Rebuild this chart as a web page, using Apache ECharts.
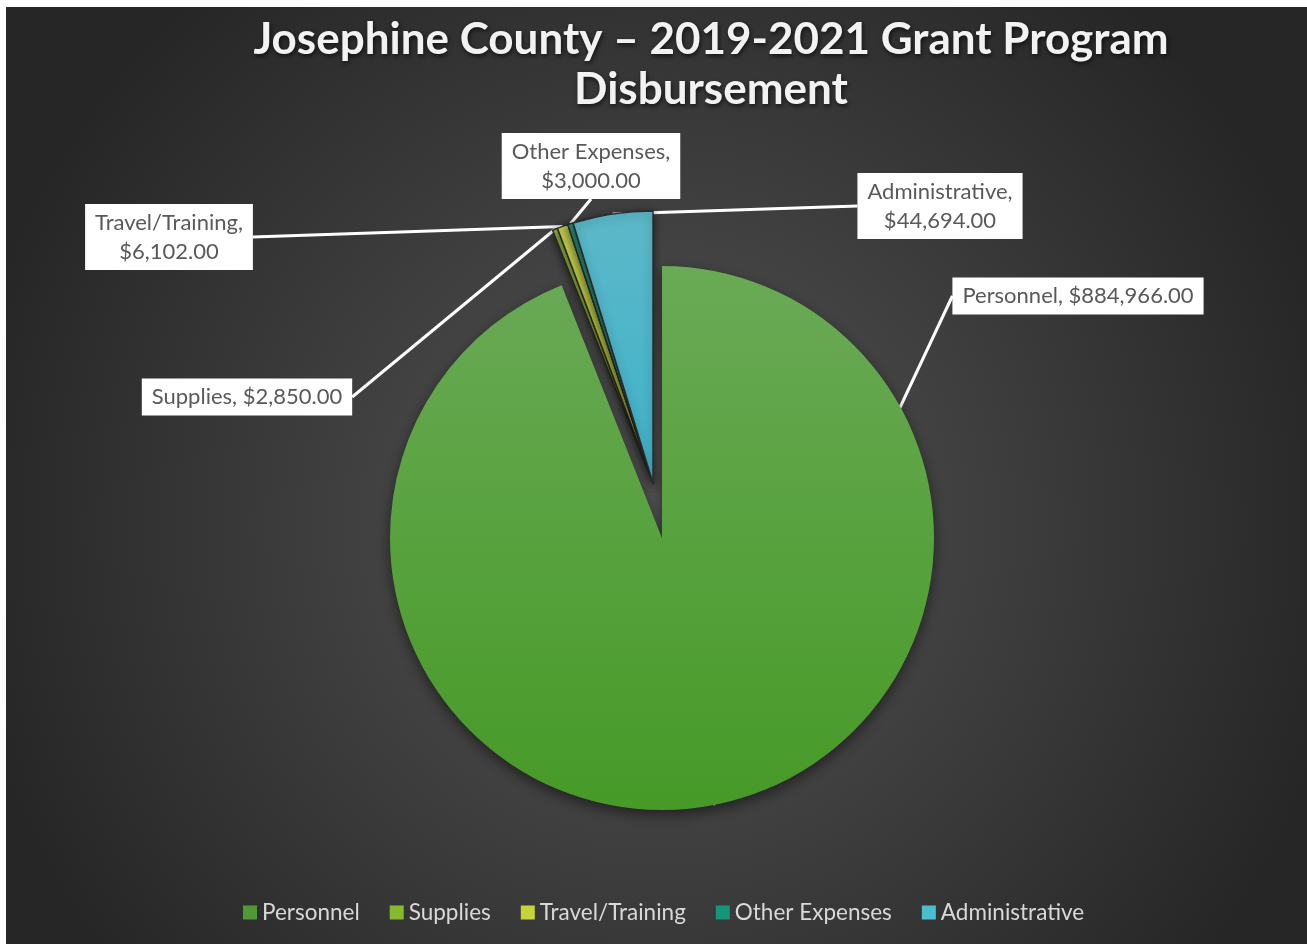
<!DOCTYPE html>
<html>
<head>
<meta charset="utf-8">
<script src="https://cdn.jsdelivr.net/npm/echarts@6/dist/echarts.min.js"></script>
<style>
html,body{margin:0;padding:0;background:#ffffff;width:1307px;height:944px;overflow:hidden;}
#chart{position:absolute;left:6px;top:7px;width:1301px;height:937px;}
</style>
</head>
<body>
<div id="chart"></div>
<script>
const titleText = 'Josephine County \u2013 2019-2021 Grant Program\nDisbursement';
const categories = ['Personnel', 'Supplies', 'Travel/Training', 'Other Expenses', 'Administrative'];
const values = [884966, 2850, 6102, 3000, 44694];
const exploded = [false, true, true, true, true];
const wrapLabel = [false, false, true, true, true];

const colors = [
  {type:'linear', x:0, y:0, x2:0, y2:1, colorStops:[{offset:0,color:'#6aaa56'},{offset:1,color:'#469a27'}]},
  {type:'linear', x:0, y:0, x2:0, y2:1, colorStops:[{offset:0,color:'#a2c748'},{offset:1,color:'#86b92e'}]},
  {type:'linear', x:0, y:0, x2:0, y2:1, colorStops:[{offset:0,color:'#cbd550'},{offset:1,color:'#c0d232'}]},
  {type:'linear', x:0, y:0, x2:0, y2:1, colorStops:[{offset:0,color:'#2a9c86'},{offset:1,color:'#11957a'}]},
  {type:'linear', x:0, y:0, x2:0, y2:1, colorStops:[{offset:0,color:'#5cb8c9'},{offset:1,color:'#3fb2c9'}]}
];
const legendColors = ['#4e9a35', '#86b92e', '#c6d43a', '#15967a', '#4bbdd0'];

function money(v){
  return '$' + v.toLocaleString('en-US', {minimumFractionDigits:2, maximumFractionDigits:2});
}

const labelPos = {
  0: [1072, 289],
  1: [241, 390],
  2: [163, 230],
  3: [585, 159],
  4: [934, 199]
};

const labelCfg = {
  show: true,
  position: 'outside',
  formatter: p => p.name + ',' + (wrapLabel[p.dataIndex] ? '\n' : ' ') + money(p.value),
  backgroundColor: '#ffffff',
  color: '#595959',
  fontFamily: 'Lato',
  fontSize: 22,
  lineHeight: 29,
  padding: [5, 10, 3, 10],
  align: 'center'
};

function buildData(showExploded){
  return categories.map((c, i) => {
    const visible = exploded[i] === showExploded;
    return {
      name: c,
      value: values[i],
      itemStyle: visible ? {
        color: colors[i],
        borderColor: exploded[i] ? 'rgba(40,40,40,0.95)' : 'rgba(0,0,0,0)',
        borderWidth: exploded[i] ? 1.5 : 0,
        shadowBlur: exploded[i] ? 10 : 14,
        shadowColor: 'rgba(0,0,0,0.5)',
        shadowOffsetY: exploded[i] ? 2 : 5
      } : {color:'rgba(0,0,0,0)', borderWidth:0, shadowBlur:0, shadowColor:'rgba(0,0,0,0)'},
      label: visible ? {} : {show:false},
      labelLine: visible ? {} : {show:false}
    };
  });
}

function layoutFn(params){
  const p = labelPos[params.dataIndex];
  return {x: p[0], y: p[1], align:'center', verticalAlign:'middle'};
}

const common = {
  type: 'pie',
  radius: [0, 272],
  startAngle: 90,
  clockwise: true,
  avoidLabelOverlap: false,
  emphasis: {disabled: true},
  label: labelCfg,
  labelLine: {show:true, length:0, length2:0, smooth:false, lineStyle:{color:'#ffffff', width:3}},
  labelLayout: layoutFn
};

const chart = echarts.init(document.getElementById('chart'), null, {renderer:'canvas'});
chart.setOption({
  animation: false,
  backgroundColor: {
    type:'radial', x:0.5, y:0.55, r:0.75,
    colorStops:[{offset:0,color:'#545454'},{offset:1,color:'#262626'}]
  },
  color: legendColors,
  title: {
    text: titleText,
    left: 700,
    top: 3,
    textAlign: 'center',
    textStyle: {
      color:'#f2f2f2', fontFamily:'Lato', fontWeight:'bold', fontSize:44, lineHeight:50,
      textShadowColor:'rgba(0,0,0,0.7)', textShadowBlur:5, textShadowOffsetX:1, textShadowOffsetY:2
    }
  },
  legend: {
    left: 232,
    top: 889,
    icon: 'rect',
    itemWidth: 14,
    itemHeight: 14,
    itemGap: 30,
    textStyle: {color:'#d9d9d9', fontFamily:'Lato', fontSize:22.5},
    data: categories.map((c,i)=>({name:c, itemStyle:{color:legendColors[i]}}))
  },
  series: [
    Object.assign({}, common, {name:'main', center:[656, 531], data: buildData(false)}),
    Object.assign({}, common, {name:'exploded', center:[647, 476], data: buildData(true)})
  ]
});
</script>
</body>
</html>
